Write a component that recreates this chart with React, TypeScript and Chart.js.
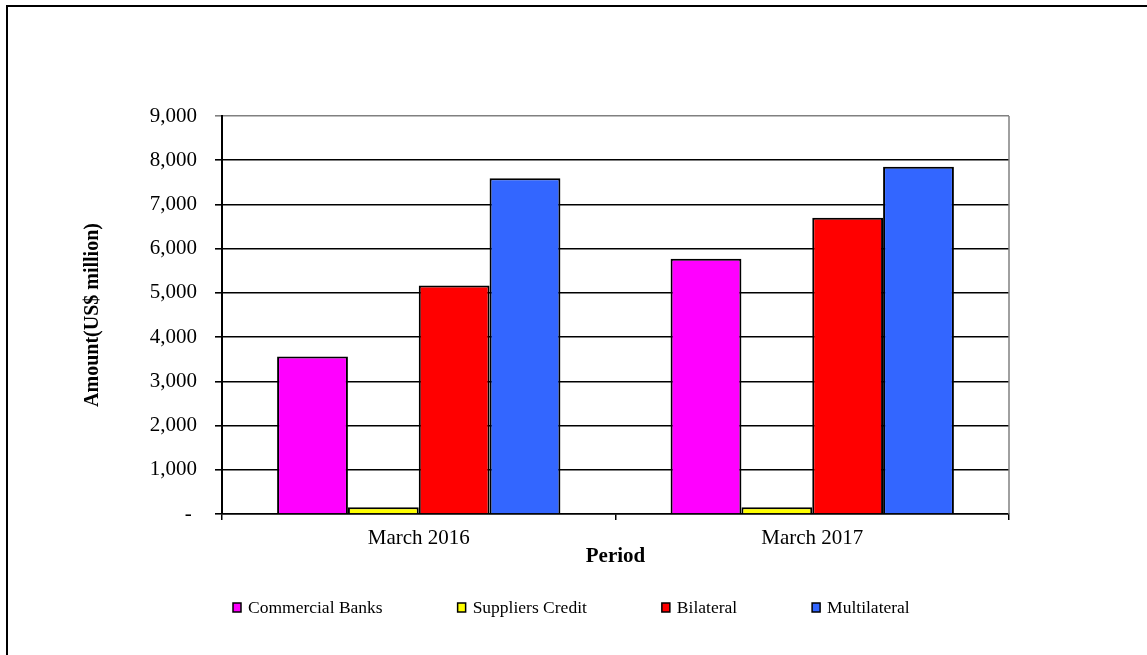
import React, { useEffect, useRef } from "react";
import { Chart, registerables } from "chart.js";

Chart.register(...registerables);

const categories = ["March 2016", "March 2017"];
const seriesNames = ["Commercial Banks", "Suppliers Credit", "Bilateral", "Multilateral"];
const commercialBanks = [3560, 5770];
const suppliersCredit = [155, 155];
const bilateral = [5165, 6700];
const multilateral = [7590, 7850];
const seriesColors = ["#FF00FF", "#FFFF00", "#FF0000", "#3366FF"];
const yMax = 9000;
const yStep = 1000;

const FONT = '"Liberation Serif", "Times New Roman", serif';

const frameAndLegend = {
  id: "frameAndLegend",
  afterDraw(chart: any) {
    const { ctx, chartArea } = chart;
    ctx.save();
    // gray right plot border
    ctx.strokeStyle = "#808080";
    ctx.lineWidth = 1.5;
    ctx.beginPath();
    ctx.moveTo(chartArea.right, chartArea.top);
    ctx.lineTo(chartArea.right, chartArea.bottom);
    ctx.stroke();

    // legend
    ctx.font = `17.5px ${FONT}`;
    ctx.textBaseline = "middle";
    ctx.textAlign = "left";
    let x = 233;
    const y = 608;
    chart.data.datasets.forEach((ds: any) => {
      ctx.fillStyle = ds.backgroundColor;
      ctx.fillRect(x, y - 5, 8, 9);
      ctx.strokeStyle = "#000";
      ctx.lineWidth = 1.5;
      ctx.strokeRect(x, y - 5, 8, 9);
      ctx.fillStyle = "#000";
      ctx.fillText(ds.label, x + 15, y);
      x += 15 + ctx.measureText(ds.label).width + 75;
    });
    ctx.restore();
  },
};

export default function App() {
  const ref = useRef<HTMLCanvasElement>(null);

  useEffect(() => {
    if (!ref.current) return;
    const values = [commercialBanks, suppliersCredit, bilateral, multilateral];
    const chart = new Chart(ref.current, {
      type: "bar",
      data: {
        labels: categories,
        datasets: seriesNames.map((name, i) => ({
          label: name,
          data: values[i],
          backgroundColor: seriesColors[i],
          borderColor: "#000",
          borderWidth: 2,
          categoryPercentage: 0.72,
          barPercentage: 1.0,
        })),
      },
      options: {
        animation: false,
        responsive: false,
        devicePixelRatio: 1,
        layout: { padding: { left: 79, right: 138, top: 116, bottom: 86 } },
        plugins: {
          legend: { display: false },
          tooltip: { enabled: false },
        },
        scales: {
          x: {
            grid: {
              display: true,
              drawOnChartArea: false,
              drawTicks: true,
              tickLength: 6,
              color: "#000",
              lineWidth: 1.5,
            },
            border: { display: true, color: "#000", width: 1.5 },
            ticks: {
              color: "#000",
              font: { family: FONT, size: 21 },
              padding: 6,
            },
            title: {
              display: true,
              text: "Period",
              color: "#000",
              font: { family: FONT, size: 21, weight: "bold" },
              padding: 0,
            },
            afterFit: (scale: any) => {
              scale.height = 55;
            },
          },
          y: {
            min: 0,
            max: yMax,
            grid: {
              color: (c: any) => (c.tick && c.tick.value === yMax ? "#808080" : "#000"),
              lineWidth: 1.6,
              tickLength: 7,
              drawTicks: true,
            },
            border: { display: true, color: "#000", width: 2 },
            ticks: {
              stepSize: yStep,
              color: "#000",
              padding: 18,
              font: { family: FONT, size: 21 },
              callback: (v: any) => (Number(v) === 0 ? "- " : Number(v).toLocaleString("en-US")),
            },
            title: {
              display: true,
              text: "Amount(US$ million)",
              color: "#000",
              font: { family: FONT, size: 20, weight: "bold" },
              padding: 2,
            },
            afterFit: (scale: any) => {
              scale.width = 143;
            },
          },
        },
      },
      plugins: [frameAndLegend],
    });
    return () => chart.destroy();
  }, []);

  return (
    <div
      style={{
        position: "absolute",
        left: 0,
        top: 0,
        width: 1147,
        height: 655,
        overflow: "hidden",
        background: "#fff",
      }}
    >
      <canvas ref={ref} width={1147} height={655} style={{ display: "block", position: "absolute", left: 0, top: 0 }} />
      <div
        style={{
          position: "absolute",
          left: 6,
          top: 5,
          width: 1300,
          height: 800,
          borderTop: "2px solid #000",
          borderLeft: "2px solid #000",
          pointerEvents: "none",
        }}
      />
    </div>
  );
}
